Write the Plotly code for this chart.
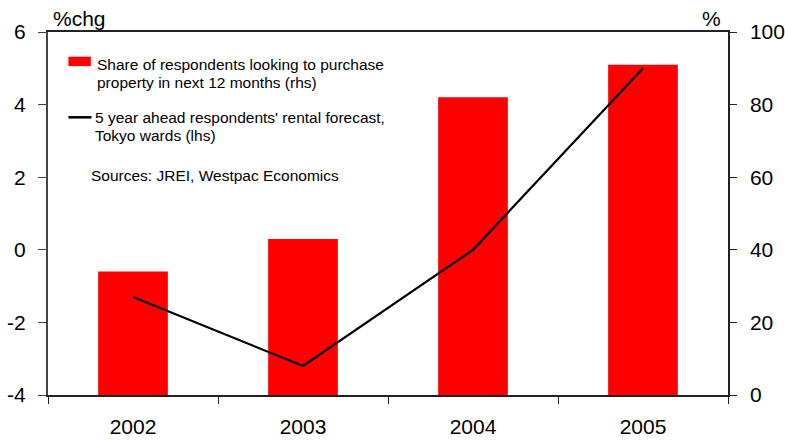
import plotly.graph_objects as go

# Survey years
years = ["2002", "2003", "2004", "2005"]
# Share of respondents looking to purchase property in next 12 months, % (rhs)
purchase_share = [34, 43, 82, 91]
# 5 year ahead rental forecast, Tokyo wards, %chg (lhs)
rental_forecast = [-1.3, -3.2, 0.0, 5.0]

left_ticks = [-4, -2, 0, 2, 4, 6]
left_labels = ["-4", "-2", "0", "2", "4", "6"]
right_ticks = [0, 20, 40, 60, 80, 100]

bar_name_lines = ["Share of respondents looking to purchase",
                  "property in next 12 months (rhs)"]
line_name_lines = ["5 year ahead respondents' rental forecast,",
                   "Tokyo wards (lhs)"]
source_text = "Sources: JREI, Westpac Economics"

FONT = "Liberation Sans, Arial, sans-serif"
AXIS_COLOR = "#222222"
BAR_COLOR = "#FF0000"
TICK_SIZE = 21
KEY_SIZE = 15.5

fig = go.Figure()

fig.add_trace(go.Bar(
    x=years, y=purchase_share, yaxis="y",
    name=" ".join(bar_name_lines),
    marker=dict(color=BAR_COLOR, line=dict(width=0)),
    width=0.41,
))

fig.add_trace(go.Scatter(
    x=years, y=rental_forecast, yaxis="y2", mode="lines",
    name=" ".join(line_name_lines),
    line=dict(color="black", width=2.2),
))

# Key drawn inside the plot area (paper coordinates)
key_shapes = [
    dict(type="rect", xref="paper", yref="paper",
         x0=0.030, x1=0.063, y0=0.906, y1=0.932,
         fillcolor=BAR_COLOR, line=dict(width=0)),
    dict(type="line", xref="paper", yref="paper",
         x0=0.030, x1=0.064, y0=0.765, y1=0.765,
         line=dict(color="black", width=2.5)),
]

def key_text(text, x, y):
    return dict(text=text, xref="paper", yref="paper", x=x, y=y,
                xanchor="left", yanchor="middle", showarrow=False,
                font=dict(size=KEY_SIZE, family=FONT, color="black"))

annotations = [
    key_text(bar_name_lines[0], 0.069, 0.911),
    key_text(bar_name_lines[1], 0.069, 0.861),
    key_text(line_name_lines[0], 0.066, 0.765),
    key_text(line_name_lines[1], 0.066, 0.716),
    key_text(source_text, 0.060, 0.606),
    dict(text="%chg", xref="paper", yref="paper", x=0.004, y=1.0, yshift=0,
         xanchor="left", yanchor="bottom", showarrow=False,
         font=dict(size=TICK_SIZE, family=FONT)),
    dict(text="%", xref="paper", yref="paper", x=0.992, y=1.0, yshift=0,
         xanchor="right", yanchor="bottom", showarrow=False,
         font=dict(size=TICK_SIZE, family=FONT)),
]

fig.update_layout(
    width=785, height=441,
    margin=dict(l=48, r=57, t=32, b=46, autoexpand=False),
    paper_bgcolor="white", plot_bgcolor="white",
    font=dict(family=FONT, size=TICK_SIZE, color="black"),
    showlegend=False,
    shapes=key_shapes,
    annotations=annotations,
    xaxis=dict(
        type="category", range=[-0.5, 3.5], automargin=False,
        showline=True, linecolor=AXIS_COLOR, linewidth=1.5, mirror=True,
        ticks="outside", ticklen=7, tickcolor=AXIS_COLOR, tickson="boundaries",
        showgrid=False, zeroline=False,
        tickfont=dict(size=TICK_SIZE), ticklabelstandoff=12,
    ),
    yaxis=dict(
        side="right", range=[0, 100], tickvals=right_ticks, automargin=False,
        showline=True, linecolor=AXIS_COLOR, linewidth=1.5,
        ticks="outside", ticklen=7, tickcolor=AXIS_COLOR,
        showgrid=False, zeroline=False,
        tickfont=dict(size=TICK_SIZE), ticklabelstandoff=9,
    ),
    yaxis2=dict(
        side="left", overlaying="y", range=[-4, 6], automargin=False,
        tickvals=left_ticks, ticktext=left_labels,
        showline=True, linecolor="#444444", linewidth=2,
        ticks="outside", ticklen=8, tickcolor="#444444",
        showgrid=False, zeroline=False,
        tickfont=dict(size=TICK_SIZE), ticklabelstandoff=8,
    ),
)

fig.write_html("out.html")
